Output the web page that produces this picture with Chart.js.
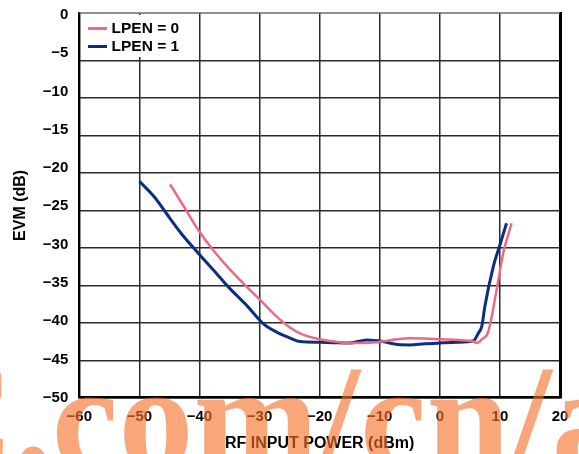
<!DOCTYPE html>
<html>
<head>
<meta charset="utf-8">
<script src="https://cdn.jsdelivr.net/npm/chart.js@4.4.1/dist/chart.umd.min.js"></script>
<style>
  html, body { margin: 0; padding: 0; background: #fff; }
  #wrap { position: relative; width: 579px; height: 454px; }
</style>
</head>
<body>
<div id="wrap"><canvas id="evmChart"></canvas></div>
<script>
// series names / colours
const seriesNames  = ['LPEN = 0', 'LPEN = 1'];
const seriesColors = ['#ec6a83', '#0c2f7d'];

// axis ticks
const xTicks     = [-60, -50, -40, -30, -20, -10, 0, 10, 20];
const yTicks     = [0, -5, -10, -15, -20, -25, -30, -35, -40, -45, -50];
const yGridTicks = [-50, -45, -40, -35, -30, -25, -20, -15, -10, -5];

// LPEN = 0 (pink)
const lpen0X = [-44.9, -42.5, -40.2, -37.7, -34.9, -32.5, -29.9, -27.5, -25, -23.3, -20, -17.5, -15.8, -13, -10.5, -8, -5, -2.5, 0, 3, 5.6, 6.1, 7, 8.05, 9.45, 10.55, 11.95];
const lpen0Y = [-21.5, -24.6, -27.6, -30.3, -32.9, -34.9, -36.95, -38.9, -40.6, -41.4, -42.2, -42.5, -42.7, -42.7, -42.6, -42.3, -42.07, -42.1, -42.2, -42.3, -42.5, -42.7, -42.2, -41.2, -35.6, -30.7, -26.7];

// LPEN = 1 (navy)
const lpen1X = [-50, -47.5, -45.5, -43, -40.2, -37.5, -35.2, -32, -29.4, -27, -25, -23.3, -20, -17.8, -15, -12.2, -9.5, -7, -5, -2.5, 0, 3, 5.6, 6.4, 7, 7.5, 8.9, 10, 11.1];
const lpen1Y = [-21.1, -23.2, -25.4, -28.1, -30.7, -33.1, -35.2, -37.8, -40.1, -41.3, -42.0, -42.5, -42.6, -42.65, -42.7, -42.3, -42.5, -42.9, -42.95, -42.8, -42.7, -42.6, -42.4, -41.4, -40.4, -37.8, -32.5, -29.6, -26.7];

const toPts = (xs, ys) => xs.map((x, i) => ({ x, y: ys[i] }));
const fmt = v => String(v).replace('-', '\u2212');
const tickFont  = { family: '"Liberation Sans", Arial, sans-serif', size: 15, weight: 'bold' };
const titleFont = { family: '"Liberation Sans", Arial, sans-serif', size: 16, weight: 'bold' };
const gridColor = '#2b2b2b';

// top frame line, legend box inside the plot, watermark text over everything
const overlayPlugin = {
  id: 'overlay',
  beforeDatasetsDraw(chart) {
    const c = chart.ctx, a = chart.chartArea;
    c.save();
    c.strokeStyle = '#6a6a6a';
    c.lineWidth = 1.5;
    c.beginPath(); c.moveTo(a.left, a.top); c.lineTo(a.right, a.top); c.stroke();
    c.restore();
  },
  afterDatasetsDraw(chart) {
    const c = chart.ctx;
    c.save();
    c.fillStyle = '#fff';
    c.fillRect(81.5, 15, 104, 42);
    c.font = 'bold 15.5px "Liberation Sans", Arial, sans-serif';
    c.textBaseline = 'middle';
    seriesNames.forEach((name, i) => {
      const y = 28.5 + i * 18;
      c.strokeStyle = seriesColors[i];
      c.lineWidth = 3;
      c.beginPath(); c.moveTo(88, y); c.lineTo(107, y); c.stroke();
      c.fillStyle = '#000';
      c.fillText(name, 111.5, y + 0.3);
    });
    c.restore();
  },
  afterDraw(chart) {
    const c = chart.ctx;
    c.save();
    c.font = 'bold 150px "Liberation Serif", "Times New Roman", serif';
    c.fillStyle = 'rgba(244,112,40,0.62)';
    c.textBaseline = 'alphabetic';
    c.fillText('C.com/cn/a', -94, 469);
    c.restore();
  }
};

new Chart(document.getElementById('evmChart').getContext('2d'), {
  type: 'scatter',
  data: {
    datasets: [
      { label: seriesNames[0], data: toPts(lpen0X, lpen0Y), yAxisID: 'y2', showLine: true,
        borderColor: seriesColors[0], backgroundColor: seriesColors[0], borderWidth: 2.5,
        pointRadius: 0, tension: 0.4, cubicInterpolationMode: 'monotone' },
      { label: seriesNames[1], data: toPts(lpen1X, lpen1Y), yAxisID: 'y2', showLine: true,
        borderColor: seriesColors[1], backgroundColor: seriesColors[1], borderWidth: 3,
        pointRadius: 0, tension: 0.4, cubicInterpolationMode: 'monotone' }
    ]
  },
  options: {
    responsive: true, maintainAspectRatio: false, animation: false,
    layout: { padding: { top: 13, right: 19, left: 0, bottom: 0 } },
    plugins: { legend: { display: false }, tooltip: { enabled: false } },
    scales: {
      x: {
        type: 'linear', min: -60, max: 20,
        afterBuildTicks: s => { s.ticks = xTicks.map(v => ({ value: v })); },
        afterFit: s => { s.height = 56.3; s.paddingLeft = 0; s.paddingRight = 0; },
        grid: { color: gridColor, lineWidth: 1.5, drawTicks: false },
        border: { display: true, color: '#000', width: 2.5 },
        ticks: { color: '#000', font: tickFont, padding: 10, maxRotation: 0, callback: fmt },
        title: { display: true, text: 'RF INPUT POWER (dBm)', color: '#000', font: titleFont, padding: { top: 0, bottom: 0.5 } }
      },
      y: {
        type: 'linear', position: 'left', min: -50, max: 0.26,
        afterBuildTicks: s => { s.ticks = yTicks.map(v => ({ value: v })); },
        afterFit: s => { s.width = 79.3; s.paddingTop = 0; s.paddingBottom = 0; },
        grid: { display: false, drawTicks: false },
        border: { display: true, color: '#000', width: 2 },
        ticks: { color: '#000', font: tickFont, padding: 11, callback: fmt },
        title: { display: true, text: 'EVM (dB)', color: '#000', font: titleFont, padding: { top: 11, bottom: 0 } }
      },
      y2: {
        type: 'linear', position: 'right', min: -50, max: 1.375,
        afterBuildTicks: s => { s.ticks = yGridTicks.map(v => ({ value: v })); },
        afterFit: s => { s.width = 0; s.paddingTop = 0; s.paddingBottom = 0; },
        grid: { color: gridColor, lineWidth: 1.5, drawTicks: false },
        border: { display: true, color: '#000', width: 3 },
        ticks: { display: false }
      }
    }
  },
  plugins: [overlayPlugin]
});
</script>
</body>
</html>
